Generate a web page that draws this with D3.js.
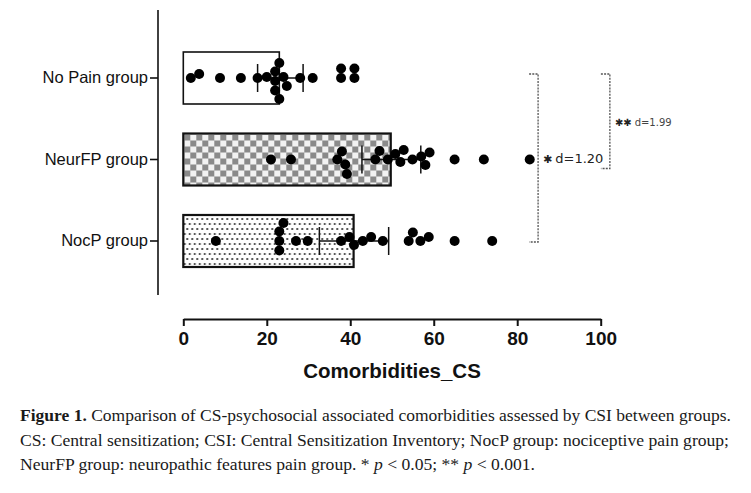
<!DOCTYPE html>
<html><head><meta charset="utf-8">
<script src="https://cdn.jsdelivr.net/npm/d3@7"></script>
<style>
html,body{margin:0;padding:0;background:#fff;}
svg{display:block;}
</style></head>
<body>
<svg id="chart" width="751" height="493"></svg>
<script>
// ---- data ----
const categories = ["No Pain group", "NeurFP group", "NocP group"];
const noPainValues = [1.8, 3.8, 8.8, 13.8, 17.8, 20, 22, 22, 22, 23, 23, 24, 24.8, 28, 31, 37.8, 37.8, 41, 41];
const neurFPValues = [21, 25.8, 36.9, 38, 38.8, 39.2, 46, 47, 49, 50.8, 52, 52.8, 54.9, 57, 58, 59, 65, 72, 83];
const nocPValues = [7.8, 23, 23, 23, 24, 27, 29.8, 37.8, 39.8, 40.9, 43, 45, 47.8, 54, 55, 56.8, 58.8, 65, 74];
const barMeans = [23.0, 49.7, 40.8];
const ciLow = [17.8, 42.8, 32.6];
const ciHigh = [28.7, 56.9, 49.2];
const xTicks = [0, 20, 40, 60, 80, 100];
const xTitle = "Comorbidities_CS";
const comparisons = [
  {a: 0, b: 2, stars: "\u2731", label: "d=1.20"},
  {a: 0, b: 1, stars: "\u2731\u2731", label: "d=1.99"}
];
const captionLines = [
  [{t: "Figure 1.", w: "bold"}, {t: " Comparison of CS-psychosocial associated comorbidities assessed by CSI between groups."}],
  [{t: "CS: Central sensitization; CSI: Central Sensitization Inventory; NocP group: nociceptive pain group;"}],
  [{t: "NeurFP group: neuropathic features pain group. * "}, {t: "p", i: true}, {t: " < 0.05; ** "}, {t: "p", i: true}, {t: " < 0.001."}]
];
const seriesValues = [noPainValues, neurFPValues, nocPValues];

// ---- layout ----
const svg = d3.select("#chart");
const x = d3.scaleLinear().domain([0, 100]).range([183.3, 600.7]);
const y = d3.scaleBand().domain(categories).range([37.25, 281.75]).paddingInner(0.362).paddingOuter(0.181);
const cy = c => y(c) + y.bandwidth() / 2;

// patterns
const defs = svg.append("defs");
const chk = defs.append("pattern").attr("id", "checker").attr("patternUnits", "userSpaceOnUse")
  .attr("width", 12).attr("height", 12).attr("x", x(0) + 1).attr("y", y(categories[1]) + 1);
chk.append("rect").attr("width", 12).attr("height", 12).attr("fill", "#f2f2f2");
chk.append("rect").attr("width", 6).attr("height", 6).attr("fill", "#8a8a8a");
chk.append("rect").attr("x", 6).attr("y", 6).attr("width", 6).attr("height", 6).attr("fill", "#8a8a8a");

const dots = defs.append("pattern").attr("id", "dots").attr("patternUnits", "userSpaceOnUse")
  .attr("width", 10).attr("height", 10).attr("x", x(0) + 2).attr("y", y(categories[2]) + 2);
dots.append("rect").attr("width", 10).attr("height", 10).attr("fill", "#fff");
dots.append("circle").attr("cx", 2).attr("cy", 2).attr("r", 0.95).attr("fill", "#111");
dots.append("circle").attr("cx", 7).attr("cy", 2).attr("r", 0.95).attr("fill", "#111");
dots.append("circle").attr("cx", 4.5).attr("cy", 7).attr("r", 0.95).attr("fill", "#111");
dots.append("circle").attr("cx", 9.5).attr("cy", 7).attr("r", 0.95).attr("fill", "#111");
dots.append("circle").attr("cx", -0.5).attr("cy", 7).attr("r", 0.95).attr("fill", "#111");

const fills = ["#ffffff", "url(#checker)", "url(#dots)"];

// bars
svg.append("g").selectAll("rect").data(categories).join("rect")
  .attr("x", x(0))
  .attr("y", d => y(d))
  .attr("width", (d, i) => x(barMeans[i]) - x(0))
  .attr("height", y.bandwidth())
  .attr("fill", (d, i) => fills[i])
  .attr("stroke", "#111")
  .attr("stroke-width", (d, i) => i === 0 ? 1.6 : 2.2);

// error bars (95% CI)
const capH = 28;
const eb = svg.append("g").attr("stroke", "#111").attr("stroke-width", 1.5);
categories.forEach((c, i) => {
  eb.append("line").attr("x1", x(ciLow[i])).attr("x2", x(ciHigh[i])).attr("y1", cy(c)).attr("y2", cy(c));
  [ciLow[i], ciHigh[i]].forEach(v => {
    eb.append("line").attr("x1", x(v)).attr("x2", x(v)).attr("y1", cy(c) - capH / 2).attr("y2", cy(c) + capH / 2);
  });
});

// beeswarm points
const r = 5, minDist = 9.2;
function swarm(values, center) {
  const placed = [];
  values.forEach(v => {
    const px = x(v);
    let dy = 0, k = 0;
    while (true) {
      const cand = k === 0 ? 0 : (k % 2 ? -1 : 1) * Math.ceil(k / 2) * 0.5;
      const ok = placed.every(p => Math.hypot(p.x - px, p.y - (center + cand)) >= minDist);
      if (ok) { dy = cand; break; }
      k++;
    }
    placed.push({x: px, y: center + dy});
  });
  return placed;
}
const pg = svg.append("g");
categories.forEach((c, i) => {
  pg.selectAll(null).data(swarm(seriesValues[i], cy(c))).join("circle")
    .attr("cx", d => d.x).attr("cy", d => d.y).attr("r", r).attr("fill", "#000");
});

// y axis
const yAxis = svg.append("g").attr("transform", "translate(158,0)")
  .call(d3.axisLeft(y).tickSize(8).tickSizeOuter(0).tickPadding(2));
yAxis.select(".domain").attr("d", "M0,10V295").attr("stroke", "#111").attr("stroke-width", 1.6);
yAxis.selectAll(".tick line").attr("stroke", "#111").attr("stroke-width", 1.6);
yAxis.selectAll(".tick text").attr("font-family", "Liberation Sans, Arial, sans-serif")
  .attr("font-size", 16.5).attr("fill", "#111");

// x axis
const xAxis = svg.append("g").attr("transform", "translate(0,319)")
  .call(d3.axisBottom(x).tickValues(xTicks).tickSize(7).tickSizeOuter(0).tickPadding(6));
xAxis.select(".domain").attr("stroke", "#111").attr("stroke-width", 2);
xAxis.selectAll(".tick line").attr("stroke", "#111").attr("stroke-width", 2);
xAxis.selectAll(".tick text").attr("font-family", "Liberation Sans, Arial, sans-serif")
  .attr("font-size", 19).attr("font-weight", "bold").attr("fill", "#111");

svg.append("text").attr("x", (x(0) + x(100)) / 2).attr("y", 378)
  .attr("text-anchor", "middle")
  .attr("font-family", "Liberation Sans, Arial, sans-serif")
  .attr("font-size", 20.5).attr("font-weight", "bold").attr("fill", "#111")
  .text(xTitle);

// significance brackets
const bracketX = [85, 102.2];
const bg = svg.append("g");
comparisons.forEach((cmp, i) => {
  const bx = x(bracketX[i]);
  const y1 = cy(categories[cmp.a]) - 4;
  const y2 = i === 0 ? cy(categories[cmp.b]) + 1 : cy(categories[cmp.b]) + 9;
  bg.append("path")
    .attr("d", `M${bx - 9},${y1}H${bx}V${y2}H${bx - 9}`)
    .attr("fill", "none").attr("stroke", "#555").attr("stroke-width", 1.3)
    .attr("stroke-dasharray", "2,1.2");
  const t = bg.append("text").attr("x", bx + 5).attr("y", (y1 + y2) / 2 + 4.5)
    .attr("font-family", "DejaVu Sans, sans-serif").attr("fill", "#222");
  t.append("tspan").attr("font-size", i === 0 ? 11 : 10).attr("font-weight", "bold").text(cmp.stars);
  t.append("tspan").attr("font-size", i === 0 ? 13 : 10).attr("fill", i === 0 ? "#222" : "#444")
    .attr("dx", 3).text(cmp.label);
});

// caption
const capWidths = [711, 709, 515];
captionLines.forEach((line, li) => {
  const t = svg.append("text").attr("x", 20).attr("y", 421 + li * 24.5)
    .attr("font-family", "Liberation Serif, Times New Roman, serif")
    .attr("font-size", 16).attr("fill", "#1a1a1a")
    .attr("textLength", capWidths[li]).attr("lengthAdjust", "spacingAndGlyphs");
  line.forEach(seg => {
    const s = t.append("tspan").text(seg.t);
    if (seg.w) s.attr("font-weight", seg.w);
    if (seg.i) s.attr("font-style", "italic");
  });
});
</script>
</body></html>
